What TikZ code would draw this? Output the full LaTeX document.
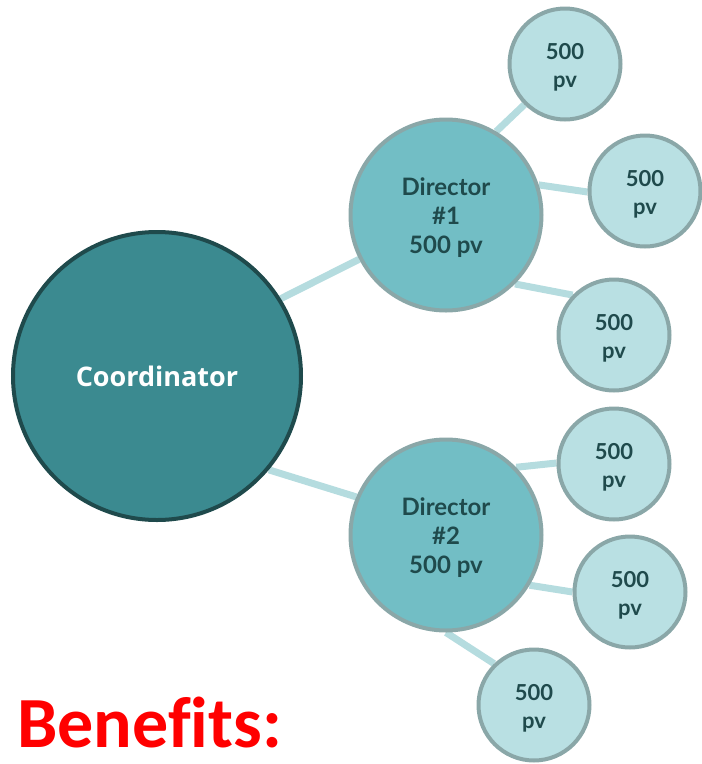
\documentclass[tikz,border=0pt]{standalone}
\usepackage{fontspec}
\setmainfont{Lato}
\newfontfamily\coordfont{Open Sans}
\newfontfamily\benfont[Ligatures=NoCommon]{Carlito}
\usetikzlibrary{backgrounds}
\definecolor{coordfill}{HTML}{3B8A90}
\definecolor{coorddraw}{HTML}{1F4A4C}
\definecolor{dirfill}{HTML}{72BEC5}
\definecolor{ringgray}{HTML}{8AA7A8}
\definecolor{smallfill}{HTML}{B9E0E3}
\definecolor{linkcol}{HTML}{B5DCDF}
\definecolor{textdark}{HTML}{1F4A4C}
\tikzset{
  coordnode/.style={circle, draw=coorddraw, fill=coordfill, line width=4pt, minimum size=288pt, inner sep=0pt, text=white, font=\coordfont\fontsize{27}{32}\selectfont\bfseries},
  dirnode/.style={circle, draw=ringgray, fill=dirfill, line width=4pt, minimum size=191pt, inner sep=0pt},
  dirtext/.style={align=center, inner sep=0pt, text=textdark, font=\fontsize{24}{29}\selectfont\bfseries},
  pvnode/.style={circle, draw=ringgray, fill=smallfill, line width=4pt, minimum size=111pt, inner sep=0pt},
  pvtext/.style={align=center, inner sep=0pt, text=textdark, font=\fontsize{22}{28}\selectfont\bfseries},
  link/.style={draw=linkcol, line width=7pt}
}
\begin{document}
\begin{tikzpicture}[x=1pt, y=-1pt]
\useasboundingbox (0,0) rectangle (702,764);
\node[coordnode] (coord) at (157,376) {Coordinator};
\node[dirnode] (d1) at (446,215) {};
\node[dirnode] (d2) at (446,535) {};
\node[dirtext] (d1t) at ([yshift=-3pt]d1.center) {Director\\\#1\\500 pv};
\node[dirtext] (d2t) at ([yshift=-3pt]d2.center) {Director\\\#2\\500 pv};
\foreach \n/\p in {s1/{565,64}, s2/{645,191}, s3/{614,335}, s4/{614,464}, s5/{630,592}, s6/{534,705}}{
  \node[pvnode] (\n) at (\p) {};
  \node[pvtext] (\n t) at ([yshift=-3pt]\n.center) {500\\pv};
}
\node[anchor=base west, text=red, font=\benfont\fontsize{72}{80}\selectfont\bfseries, inner sep=0pt] (ben) at (17,747) {Benef\kern0pt its:};
\begin{scope}[on background layer]
\draw[link] (coord.32) -- (d1.207);
\draw[link] (coord.-40) -- (d2.157);
\draw[link] (d1.59) -- (s1.225);
\draw[link] (d1.18) -- (s2.181);
\draw[link] (d1.-45) -- (s3.136);
\draw[link] (d2.44) -- (s4.179);
\draw[link] (d2.-31) -- (s5.180);
\draw[link] (d2.270) -- (s6.134);
\end{scope}
\end{tikzpicture}
\end{document}
